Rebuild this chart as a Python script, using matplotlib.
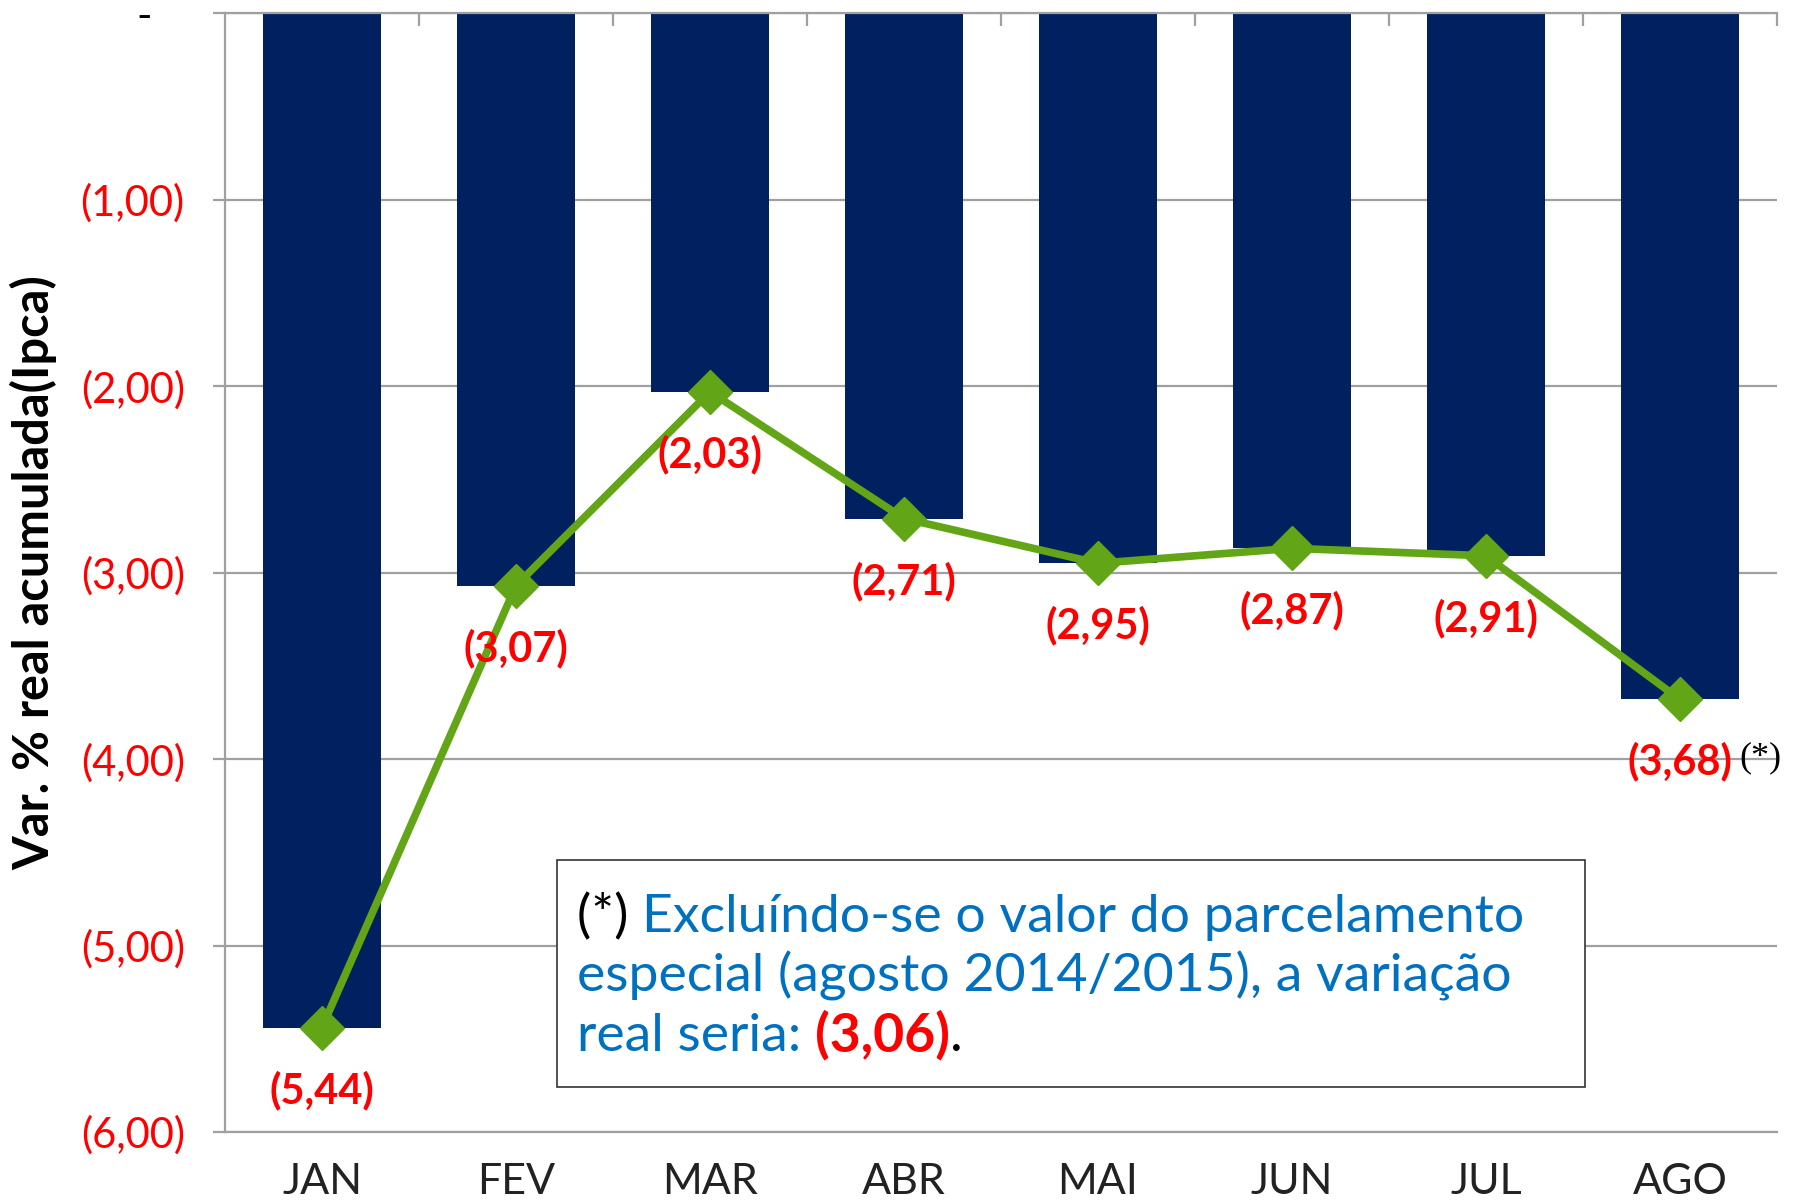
import numpy as np
import matplotlib
matplotlib.use('Agg')
import matplotlib.pyplot as plt
from matplotlib.ticker import FixedLocator, FuncFormatter

plt.rcParams['font.family'] = ['Lato', 'DejaVu Sans']

meses = ['JAN', 'FEV', 'MAR', 'ABR', 'MAI', 'JUN', 'JUL', 'AGO']
var_real = [-5.44, -3.07, -2.03, -2.71, -2.95, -2.87, -2.91, -3.68]
rotulos = ['(5,44)', '(3,07)', '(2,03)', '(2,71)', '(2,95)', '(2,87)', '(2,91)', '(3,68)']
yticks = [0, -1, -2, -3, -4, -5, -6]

azul = '#002060'
verde = '#62A516'
vermelho = '#FF0000'
cinza = '#A0A0A0'

fig = plt.figure(figsize=(17.93, 12), dpi=100)
ax = fig.add_axes([0.1255, 0.0567, 0.8655, 0.9323])

x = np.arange(len(meses))
ax.bar(x, var_real, width=0.61, color=azul, zorder=2)
ax.plot(x, var_real, color=verde, lw=5.5, marker='D', ms=22, zorder=3)

for xi, v, r in zip(x, var_real, rotulos):
    ax.annotate(r, (xi, v), xytext=(0, -45), textcoords='offset points',
                ha='center', va='center', color=vermelho, fontsize=30,
                fontweight='bold', zorder=4)
# asterisco ao lado do ultimo rotulo
ax.annotate('(*)', (x[-1], var_real[-1]), xytext=(43, -42), textcoords='offset points',
            ha='left', va='center', color='black', fontsize=26,
            family='Liberation Serif', zorder=4)

ax.set_xlim(-0.5, 7.5)
ax.set_ylim(-6, 0)
ax.yaxis.set_major_locator(FixedLocator(yticks))

def fmt(v, pos):
    if v == 0:
        return '-   '
    return '(%d,00)' % abs(round(v))

ax.yaxis.set_major_formatter(FuncFormatter(fmt))
ax.grid(axis='y', color=cinza, lw=1.6, zorder=1)
ax.set_axisbelow(True)

for lab in ax.get_yticklabels():
    lab.set_color('black' if lab.get_text().strip() == '-' else vermelho)
ax.tick_params(axis='y', labelsize=30, length=9, width=1.6, color=cinza, pad=20)

ax.set_xticks(x)
ax.set_xticklabels(meses, fontsize=31, color='#222222')
ax.tick_params(axis='x', which='major', length=0, pad=22)
ax.xaxis.set_minor_locator(FixedLocator(np.arange(0.5, 8, 1)))
ax.tick_params(axis='x', which='minor', bottom=False, top=True, direction='in',
               length=9, width=1.6, color=cinza)

for s in ['left', 'top', 'bottom']:
    ax.spines[s].set_color(cinza)
    ax.spines[s].set_linewidth(1.6)
ax.spines['right'].set_visible(False)

fig.text(0.019, 0.523, 'Var. % real acumulada(Ipca)', rotation=90, ha='center',
         va='center', fontsize=35, fontweight='bold', color='black')

# caixa de nota
box = plt.Rectangle((557 / 1793, 1 - 1087 / 1200), 1028 / 1793, 227 / 1200,
                    transform=fig.transFigure, fill=True, facecolor='white',
                    edgecolor='#333333', lw=1.2, zorder=5)
fig.patches.append(box)

renderer = fig.canvas.get_renderer()
linhas = [
    [('(*) ', 'black', 'normal'), ('Excluíndo-se o valor do parcelamento', '#0070C0', 'normal')],
    [('especial (agosto 2014/2015), a variação', '#0070C0', 'normal')],
    [('real seria: ', '#0070C0', 'normal'), ('(3,06)', vermelho, 'bold'), ('.', 'black', 'normal')],
]
x0 = 577 / 1793
base = 1 - 932 / 1200
passo = 59.5 / 1200
for i, linha in enumerate(linhas):
    xp = x0
    for txt, cor, peso in linha:
        t = fig.text(xp, base - i * passo, txt, color=cor, fontsize=38.5,
                     fontweight=peso, ha='left', va='baseline', zorder=6)
        bb = t.get_window_extent(renderer=renderer)
        xp = bb.x1 / fig.bbox.width

fig.savefig('out.png', dpi=100)
